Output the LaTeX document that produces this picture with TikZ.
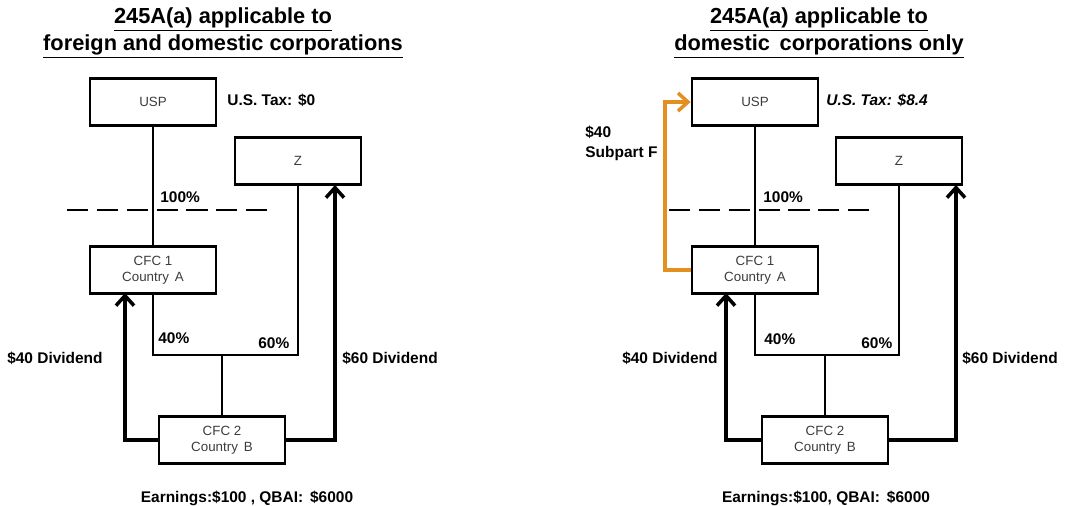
\documentclass[tikz,border=0pt]{standalone}
\usepackage{fontspec}
\setmainfont{Liberation Sans}
\usetikzlibrary{arrows.meta}

\definecolor{subf}{RGB}{227,144,32}
\definecolor{boxtext}{RGB}{60,60,60}

\tikzset{
  entity/.style={draw, line width=1.6pt, minimum width=2.52cm, minimum height=0.94cm,
    inner sep=0pt, align=center, text=boxtext, font=\fontsize{7.6}{9.4}\selectfont},
  lbl/.style={inner sep=0pt, font=\fontsize{8.8}{10.5}\selectfont\bfseries},
  heading/.style={inner sep=0pt, align=center, font=\fontsize{12.4}{15.3}\selectfont\bfseries},
  own/.style={line width=0.85pt},
  div/.style={->, line width=2pt},
  border/.style={line width=1.5pt, dash pattern=on 12pt off 5pt}
}

\begin{document}
\begin{tikzpicture}[x=0.02cm, y=-0.02cm, >={Straight Barb[length=2mm,width=3.6mm]}]
  \useasboundingbox (0,0) rectangle (1071,505);

  % left: 245A(a) for foreign and domestic corporations
  \node[heading] (ltitle) at (223,33) {\underline{245A(a) applicable to}\\\underline{foreign and domestic corporations}};
  \node[entity] (lusp) at (153,102) {USP};
  \node[entity] (lz) at (298,161) {Z};
  \node[entity] (lcfca) at (153,270) {CFC 1\\Country\, A};
  \node[entity] (lcfcb) at (222,440) {CFC 2\\Country\, B};
  \coordinate (lbar) at (222,355);
  \coordinate (lforty) at (125,293);
  \coordinate (lsixty) at (335,185);
  \draw[border] (67,210) -- (267,210);
  \draw[own] (lusp) -- (lcfca);
  \draw[own] (lcfca.south) |- (lbar) -| (lz.south);
  \draw[own] (lbar) -- (lcfcb);
  \draw[div] (lcfcb.west) -| (lforty);
  \draw[div] (lcfcb.east) -| (lsixty);
  \node[lbl, anchor=west] (ltax) at (227,100) {U.S. Tax: \$0};
  \node[lbl, anchor=west] (lhundred) at (160,197) {100\%};
  \node[lbl, anchor=west] (lfortyp) at (158,338) {40\%};
  \node[lbl, anchor=west] (lsixtyp) at (258,343) {60\%};
  \node[lbl, anchor=east] (lfortyd) at (103,358) {\$40 Dividend};
  \node[lbl, anchor=west] (lsixtyd) at (342,358) {\$60 Dividend};
  \node[lbl] (learn) at (247,498) {Earnings:\$100 , QBAI:\, \$6000};

  % right: 245A(a) for domestic corporations only
  \node[heading] (rtitle) at (819,33) {\underline{245A(a) applicable to}\\\underline{domestic\, corporations only}};
  \node[entity] (rusp) at (755,102) {USP};
  \node[entity] (rz) at (899,161) {Z};
  \node[entity] (rcfca) at (755,270) {CFC 1\\Country\, A};
  \node[entity] (rcfcb) at (825,440) {CFC 2\\Country\, B};
  \coordinate (rbar) at (825,355);
  \coordinate (rforty) at (726,293);
  \coordinate (rsixty) at (956,185);
  \coordinate (rsub) at (665,180);
  \draw[border] (669,210) -- (869,210);
  \draw[own] (rusp) -- (rcfca);
  \draw[own] (rcfca.south) |- (rbar) -| (rz.south);
  \draw[own] (rbar) -- (rcfcb);
  \draw[div] (rcfcb.west) -| (rforty);
  \draw[div] (rcfcb.east) -| (rsixty);
  \draw[->, subf, line width=2pt] (rcfca.west) -| (rsub) |- (rusp.west);
  \node[lbl, anchor=west] (rtax) at (826,100) {\itshape U.S. Tax: \$8.4};
  \node[lbl, anchor=west, align=left] (rsubf) at (585,143) {\$40\\[1pt]Subpart F};
  \node[lbl, anchor=west] (rhundred) at (763,197) {100\%};
  \node[lbl, anchor=west] (rfortyp) at (764,339) {40\%};
  \node[lbl, anchor=west] (rsixtyp) at (861,343) {60\%};
  \node[lbl, anchor=east] (rfortyd) at (718,358) {\$40 Dividend};
  \node[lbl, anchor=west] (rsixtyd) at (962,358) {\$60 Dividend};
  \node[lbl] (rearn) at (826,498) {Earnings:\$100, QBAI:\, \$6000};
\end{tikzpicture}
\end{document}
